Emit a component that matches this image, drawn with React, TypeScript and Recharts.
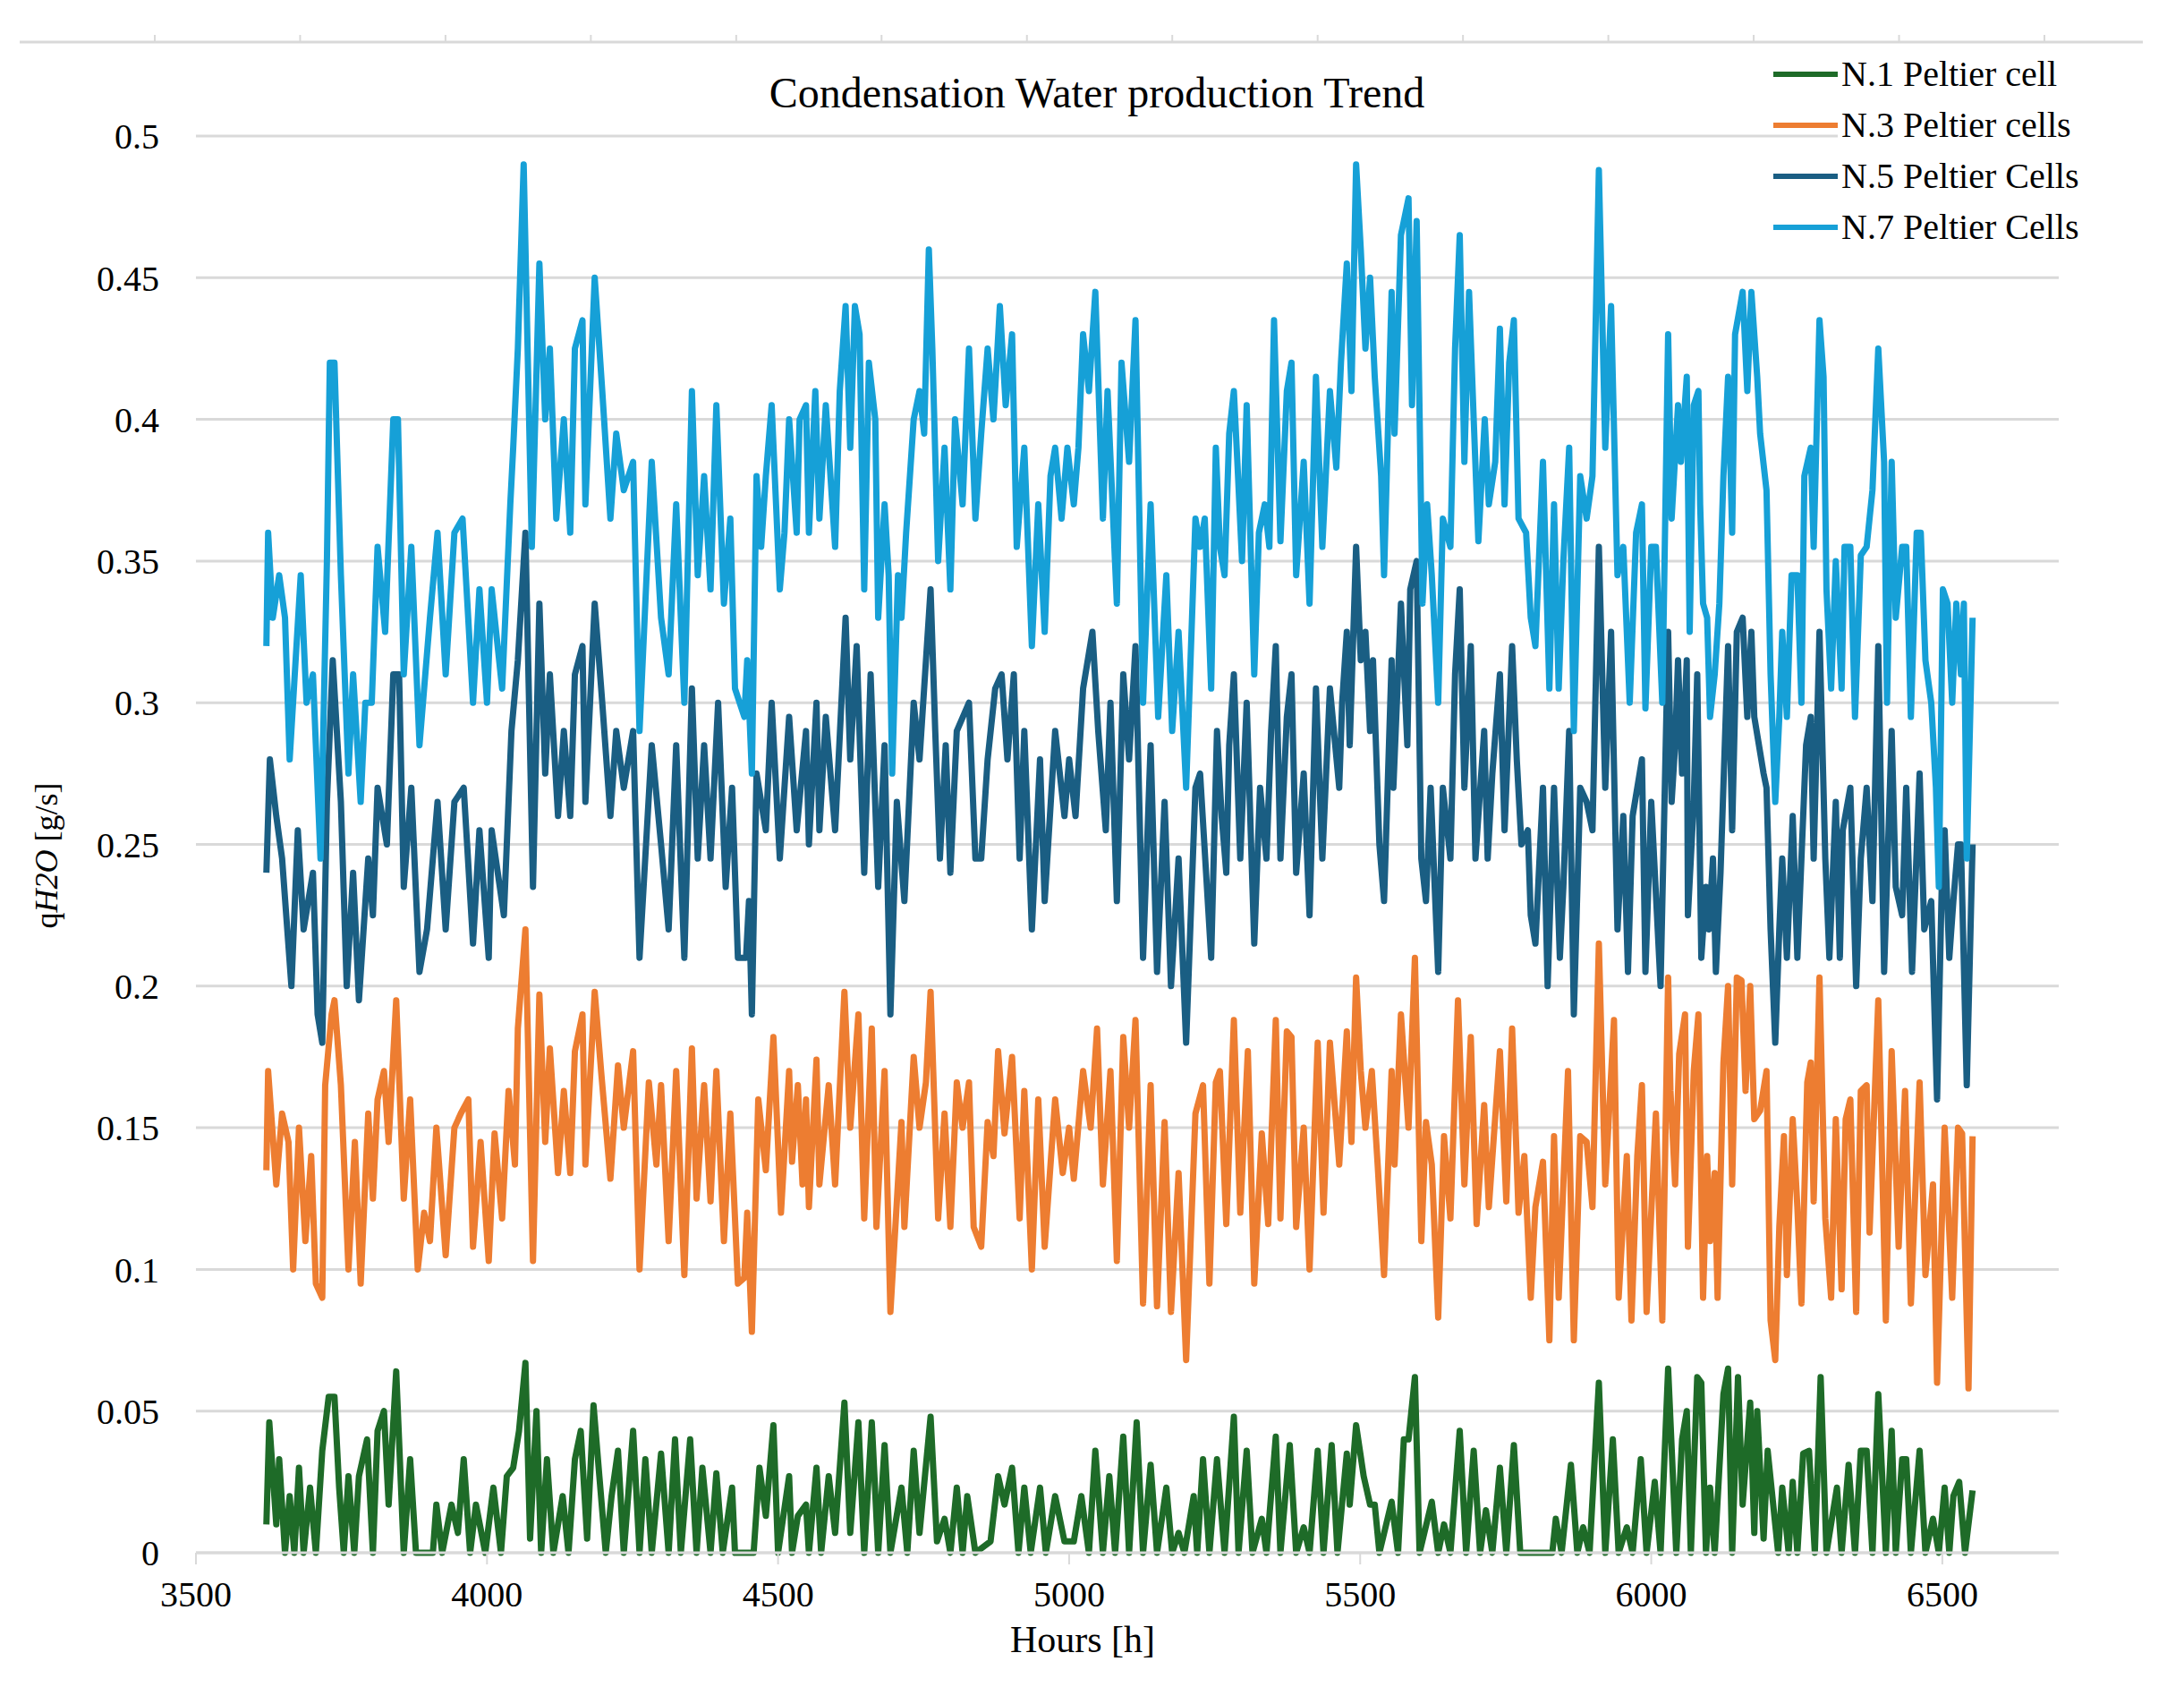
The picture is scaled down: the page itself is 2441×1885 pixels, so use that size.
import React from "react";
import { LineChart, Line, XAxis, YAxis, CartesianGrid, Legend } from "recharts";

// [hour, q H2O g/s] readings per configuration
const N1: [number, number][] = [
  [3621, 0.01], [3626, 0.046], [3638, 0.01], [3643, 0.033], [3653, 0], [3661, 0.02], [3669, 0], [3677, 0.03],
  [3685, 0], [3696, 0.023], [3706, 0], [3717, 0.036], [3728, 0.055], [3738, 0.055], [3746, 0.023], [3754, 0],
  [3762, 0.027], [3772, 0], [3780, 0.027], [3794, 0.04], [3804, 0], [3812, 0.043], [3823, 0.05], [3831, 0.017],
  [3844, 0.064], [3857, 0], [3868, 0.033], [3878, 0], [3907, 0], [3913, 0.017], [3923, 0], [3939, 0.017],
  [3950, 0.007], [3960, 0.033], [3971, 0], [3981, 0.017], [3997, 0], [4011, 0.023], [4024, 0], [4034, 0.027],
  [4045, 0.03], [4055, 0.043], [4066, 0.067], [4074, 0.005], [4085, 0.05], [4093, 0], [4103, 0.033], [4114, 0],
  [4130, 0.02], [4140, 0], [4151, 0.033], [4161, 0.043], [4172, 0.005], [4183, 0.052], [4193, 0.027], [4204, 0],
  [4214, 0.02], [4225, 0.036], [4235, 0], [4251, 0.043], [4262, 0], [4272, 0.033], [4283, 0], [4299, 0.035],
  [4312, 0], [4323, 0.04], [4333, 0], [4349, 0.04], [4360, 0], [4370, 0.03], [4384, 0], [4394, 0.028],
  [4405, 0], [4421, 0.023], [4426, 0], [4458, 0], [4468, 0.03], [4479, 0.013], [4492, 0.045], [4500, 0],
  [4519, 0.027], [4524, 0], [4534, 0.013], [4548, 0.017], [4553, 0], [4566, 0.03], [4574, 0], [4587, 0.027],
  [4598, 0.007], [4614, 0.053], [4624, 0.007], [4638, 0.046], [4648, 0], [4661, 0.046], [4672, 0], [4683, 0.038],
  [4693, 0], [4712, 0.023], [4722, 0], [4733, 0.036], [4743, 0.007], [4762, 0.048], [4773, 0.004], [4786, 0.012],
  [4796, 0], [4807, 0.023], [4817, 0], [4825, 0.02], [4839, 0], [4865, 0.004], [4878, 0.027], [4889, 0.017],
  [4902, 0.03], [4913, 0], [4923, 0.023], [4934, 0], [4950, 0.023], [4960, 0], [4976, 0.02], [4992, 0.004],
  [5008, 0.004], [5021, 0.02], [5034, 0], [5045, 0.036], [5058, 0], [5069, 0.027], [5079, 0], [5093, 0.041],
  [5103, 0], [5116, 0.046], [5127, 0], [5140, 0.031], [5151, 0], [5167, 0.023], [5177, 0], [5188, 0.007],
  [5198, 0], [5214, 0.02], [5220, 0], [5230, 0.033], [5241, 0], [5254, 0.033], [5267, 0], [5283, 0.048],
  [5291, 0], [5305, 0.036], [5315, 0], [5331, 0.012], [5339, 0], [5355, 0.041], [5363, 0], [5379, 0.038],
  [5390, 0], [5403, 0.009], [5413, 0], [5427, 0.036], [5437, 0], [5451, 0.038], [5461, 0], [5477, 0.035],
  [5482, 0.017], [5493, 0.045], [5506, 0.027], [5517, 0.017], [5525, 0.017], [5533, 0], [5554, 0.018], [5565, 0],
  [5575, 0.04], [5583, 0.04], [5594, 0.062], [5602, 0], [5623, 0.018], [5634, 0], [5644, 0.01], [5655, 0],
  [5671, 0.043], [5682, 0], [5695, 0.036], [5706, 0], [5716, 0.015], [5727, 0], [5740, 0.03], [5751, 0],
  [5764, 0.038], [5775, 0], [5830, 0], [5836, 0.012], [5846, 0], [5862, 0.031], [5873, 0], [5883, 0.009],
  [5894, 0], [5910, 0.06], [5921, 0], [5934, 0.04], [5944, 0], [5958, 0.009], [5968, 0], [5982, 0.033],
  [5992, 0], [6006, 0.025], [6016, 0], [6029, 0.065], [6043, 0], [6053, 0.04], [6061, 0.05], [6068, 0],
  [6079, 0.062], [6086, 0.06], [6094, 0], [6101, 0.023], [6109, 0], [6124, 0.056], [6132, 0.065], [6139, 0],
  [6149, 0.062], [6157, 0.017], [6170, 0.053], [6177, 0.007], [6182, 0.05], [6193, 0.005], [6200, 0.036], [6218, 0],
  [6225, 0.023], [6236, 0], [6243, 0.025], [6251, 0], [6261, 0.035], [6271, 0.036], [6281, 0], [6291, 0.062],
  [6301, 0], [6319, 0.023], [6327, 0], [6339, 0.031], [6350, 0], [6360, 0.036], [6370, 0.036], [6380, 0],
  [6390, 0.056], [6403, 0], [6413, 0.043], [6420, 0], [6431, 0.033], [6438, 0.033], [6446, 0], [6461, 0.036],
  [6471, 0], [6484, 0.012], [6494, 0], [6504, 0.023], [6512, 0], [6519, 0.02], [6529, 0.025], [6539, 0],
  [6552, 0.022],
];

const N3: [number, number][] = [
  [3621, 0.135], [3624, 0.17], [3638, 0.13], [3648, 0.155], [3659, 0.145], [3667, 0.1], [3677, 0.15], [3688, 0.11],
  [3698, 0.14], [3706, 0.095], [3717, 0.09], [3722, 0.165], [3733, 0.19], [3738, 0.195], [3749, 0.165], [3762, 0.1],
  [3773, 0.145], [3783, 0.095], [3796, 0.155], [3804, 0.125], [3812, 0.16], [3823, 0.17], [3831, 0.145], [3844, 0.195],
  [3857, 0.125], [3868, 0.16], [3881, 0.1], [3892, 0.12], [3902, 0.11], [3913, 0.15], [3929, 0.105], [3944, 0.15],
  [3955, 0.155], [3968, 0.16], [3976, 0.108], [3989, 0.145], [4003, 0.103], [4013, 0.148], [4026, 0.118], [4037, 0.163],
  [4048, 0.137], [4053, 0.185], [4066, 0.22], [4079, 0.103], [4090, 0.197], [4100, 0.145], [4108, 0.178], [4122, 0.134],
  [4132, 0.163], [4143, 0.134], [4151, 0.177], [4164, 0.19], [4169, 0.137], [4185, 0.198], [4196, 0.17], [4212, 0.132],
  [4225, 0.172], [4235, 0.15], [4251, 0.177], [4262, 0.1], [4278, 0.166], [4291, 0.137], [4299, 0.165], [4312, 0.11],
  [4325, 0.17], [4339, 0.098], [4352, 0.178], [4360, 0.125], [4373, 0.165], [4384, 0.124], [4394, 0.17],
  [4407, 0.11], [4418, 0.155], [4431, 0.095], [4442, 0.097], [4447, 0.12], [4455, 0.078], [4466, 0.16], [4479, 0.135],
  [4492, 0.182], [4505, 0.12], [4519, 0.17], [4524, 0.138], [4534, 0.165], [4542, 0.13], [4548, 0.16], [4553, 0.122],
  [4566, 0.174], [4571, 0.13], [4587, 0.165], [4598, 0.13], [4614, 0.198], [4624, 0.15], [4638, 0.19], [4648, 0.118],
  [4661, 0.185], [4669, 0.115], [4683, 0.17], [4693, 0.085], [4712, 0.152], [4717, 0.115], [4733, 0.175], [4743, 0.15],
  [4754, 0.166], [4762, 0.198], [4775, 0.118], [4786, 0.155], [4796, 0.115], [4807, 0.166], [4817, 0.15], [4828, 0.166],
  [4836, 0.115], [4849, 0.108], [4860, 0.152], [4870, 0.14], [4878, 0.177], [4889, 0.148], [4902, 0.175], [4915, 0.118],
  [4923, 0.163], [4936, 0.1], [4947, 0.16], [4958, 0.108], [4976, 0.16], [4989, 0.134], [5000, 0.15], [5008, 0.132],
  [5024, 0.17], [5037, 0.15], [5048, 0.185], [5058, 0.13], [5071, 0.17], [5082, 0.103], [5093, 0.182], [5103, 0.15],
  [5114, 0.188], [5127, 0.088], [5140, 0.165], [5151, 0.087], [5164, 0.152], [5175, 0.085], [5188, 0.134], [5201, 0.068],
  [5217, 0.155], [5230, 0.165], [5241, 0.095], [5252, 0.166], [5259, 0.17], [5270, 0.116], [5283, 0.188], [5294, 0.12],
  [5307, 0.177], [5318, 0.095], [5331, 0.148], [5342, 0.116], [5355, 0.188], [5363, 0.118], [5374, 0.184], [5382, 0.182],
  [5390, 0.115], [5403, 0.15], [5413, 0.1], [5427, 0.18], [5437, 0.12], [5448, 0.18], [5464, 0.137], [5477, 0.184],
  [5485, 0.145], [5493, 0.203], [5501, 0.17], [5509, 0.15], [5520, 0.17], [5530, 0.137], [5541, 0.098], [5554, 0.17],
  [5559, 0.137], [5570, 0.19], [5583, 0.15], [5594, 0.21], [5605, 0.11], [5613, 0.152], [5623, 0.137], [5634, 0.083],
  [5644, 0.147], [5655, 0.118], [5668, 0.195], [5679, 0.13], [5690, 0.182], [5700, 0.116], [5713, 0.158], [5721, 0.122],
  [5740, 0.177], [5751, 0.124], [5761, 0.185], [5772, 0.12], [5782, 0.14], [5793, 0.09], [5801, 0.122], [5814, 0.138],
  [5825, 0.075], [5833, 0.147], [5841, 0.09], [5857, 0.17], [5867, 0.075], [5878, 0.147], [5889, 0.145], [5899, 0.122],
  [5910, 0.215], [5921, 0.13], [5936, 0.188], [5944, 0.09], [5958, 0.14], [5966, 0.082], [5976, 0.14], [5984, 0.165],
  [5992, 0.085], [6008, 0.155], [6019, 0.082], [6029, 0.203], [6033, 0.163], [6041, 0.13], [6048, 0.176], [6058, 0.19],
  [6063, 0.108], [6073, 0.17], [6081, 0.19], [6089, 0.09], [6096, 0.14], [6101, 0.11], [6109, 0.134], [6114, 0.09],
  [6124, 0.173], [6132, 0.2], [6139, 0.13], [6147, 0.203], [6155, 0.202], [6162, 0.163], [6170, 0.2], [6177, 0.153],
  [6187, 0.156], [6198, 0.17], [6205, 0.082], [6213, 0.068], [6220, 0.115], [6228, 0.147], [6233, 0.098], [6243, 0.153],
  [6251, 0.122], [6258, 0.088], [6268, 0.166], [6274, 0.173], [6279, 0.124], [6289, 0.203], [6299, 0.118], [6309, 0.09],
  [6317, 0.153], [6327, 0.093], [6334, 0.153], [6342, 0.16], [6352, 0.085], [6360, 0.163], [6370, 0.165], [6375, 0.113],
  [6390, 0.195], [6403, 0.082], [6413, 0.177], [6425, 0.108], [6436, 0.163], [6446, 0.088], [6461, 0.166], [6471, 0.098],
  [6484, 0.13], [6491, 0.06], [6504, 0.15], [6517, 0.09], [6527, 0.15], [6534, 0.148], [6545, 0.058], [6552, 0.147],
];

const N5: [number, number][] = [
  [3621, 0.24], [3627, 0.28], [3638, 0.26], [3648, 0.245], [3664, 0.2], [3675, 0.255], [3685, 0.22], [3701, 0.24],
  [3709, 0.19], [3717, 0.18], [3725, 0.265], [3735, 0.315], [3749, 0.265], [3759, 0.2], [3770, 0.24], [3780, 0.195],
  [3796, 0.245], [3804, 0.225], [3812, 0.27], [3828, 0.25], [3839, 0.31], [3849, 0.31], [3857, 0.235], [3870, 0.27],
  [3884, 0.205], [3897, 0.22], [3915, 0.265], [3929, 0.22], [3944, 0.265], [3960, 0.27], [3976, 0.215], [3987, 0.255],
  [4003, 0.21], [4008, 0.255], [4029, 0.225], [4042, 0.29], [4053, 0.315], [4066, 0.36], [4079, 0.235], [4090, 0.335],
  [4100, 0.275], [4108, 0.31], [4122, 0.26], [4132, 0.29], [4143, 0.26], [4151, 0.31], [4164, 0.32], [4169, 0.265],
  [4185, 0.335], [4198, 0.3], [4212, 0.26], [4222, 0.29], [4235, 0.27], [4251, 0.29], [4262, 0.21], [4283, 0.285],
  [4299, 0.25], [4312, 0.22], [4325, 0.285], [4339, 0.21], [4352, 0.305], [4362, 0.245], [4373, 0.285], [4384, 0.245],
  [4397, 0.3], [4410, 0.235], [4421, 0.27], [4431, 0.21], [4445, 0.21], [4450, 0.23], [4455, 0.19], [4463, 0.275],
  [4479, 0.255], [4489, 0.3], [4503, 0.245], [4519, 0.295], [4532, 0.255], [4548, 0.29], [4553, 0.25], [4566, 0.3],
  [4571, 0.255], [4582, 0.295], [4598, 0.255], [4616, 0.33], [4624, 0.28], [4635, 0.32], [4648, 0.24], [4659, 0.31],
  [4672, 0.235], [4683, 0.285], [4693, 0.19], [4704, 0.265], [4717, 0.23], [4733, 0.3], [4743, 0.28], [4762, 0.34],
  [4770, 0.29], [4778, 0.245], [4788, 0.285], [4796, 0.24], [4807, 0.29], [4828, 0.3], [4839, 0.245], [4849, 0.245],
  [4860, 0.28], [4873, 0.305], [4884, 0.31], [4894, 0.28], [4905, 0.31], [4915, 0.245], [4923, 0.29], [4936, 0.22],
  [4950, 0.28], [4958, 0.23], [4976, 0.29], [4992, 0.26], [5000, 0.28], [5011, 0.26], [5024, 0.305], [5040, 0.325],
  [5050, 0.29], [5063, 0.255], [5071, 0.3], [5082, 0.23], [5093, 0.31], [5103, 0.28], [5114, 0.32], [5127, 0.21],
  [5140, 0.285], [5151, 0.205], [5164, 0.265], [5175, 0.2], [5188, 0.245], [5201, 0.18], [5217, 0.27], [5225, 0.275],
  [5244, 0.21], [5254, 0.29], [5262, 0.26], [5270, 0.24], [5275, 0.285], [5283, 0.31], [5294, 0.245], [5305, 0.3],
  [5318, 0.215], [5328, 0.27], [5339, 0.245], [5347, 0.29], [5355, 0.32], [5363, 0.245], [5374, 0.295], [5382, 0.31],
  [5390, 0.24], [5403, 0.275], [5413, 0.225], [5424, 0.305], [5435, 0.245], [5448, 0.305], [5464, 0.27], [5469, 0.3],
  [5477, 0.325], [5482, 0.285], [5493, 0.355], [5501, 0.315], [5509, 0.325], [5517, 0.29], [5522, 0.315], [5533, 0.25],
  [5541, 0.23], [5554, 0.315], [5557, 0.27], [5570, 0.335], [5581, 0.285], [5586, 0.34], [5597, 0.35], [5605, 0.245],
  [5613, 0.23], [5621, 0.27], [5634, 0.205], [5642, 0.27], [5655, 0.245], [5663, 0.31], [5671, 0.34], [5679, 0.27],
  [5690, 0.32], [5698, 0.245], [5713, 0.29], [5719, 0.245], [5727, 0.275], [5740, 0.31], [5748, 0.255], [5761, 0.32],
  [5769, 0.28], [5777, 0.25], [5788, 0.255], [5793, 0.225], [5801, 0.215], [5814, 0.27], [5822, 0.2], [5833, 0.27],
  [5843, 0.21], [5849, 0.235], [5859, 0.29], [5867, 0.19], [5878, 0.27], [5889, 0.265], [5899, 0.255], [5910, 0.355],
  [5921, 0.27], [5931, 0.325], [5942, 0.22], [5952, 0.26], [5960, 0.205], [5968, 0.26], [5984, 0.28], [5990, 0.205],
  [6000, 0.265], [6016, 0.2], [6029, 0.325], [6035, 0.265], [6041, 0.285], [6046, 0.315], [6053, 0.275], [6061, 0.315],
  [6063, 0.225], [6073, 0.265], [6079, 0.31], [6086, 0.21], [6094, 0.235], [6099, 0.22], [6106, 0.245], [6111, 0.205],
  [6119, 0.24], [6132, 0.32], [6139, 0.255], [6147, 0.325], [6157, 0.33], [6165, 0.295], [6172, 0.325], [6177, 0.295],
  [6185, 0.285], [6193, 0.275], [6198, 0.27], [6205, 0.22], [6213, 0.18], [6220, 0.22], [6225, 0.245], [6233, 0.21],
  [6243, 0.26], [6251, 0.21], [6258, 0.245], [6266, 0.285], [6274, 0.295], [6279, 0.245], [6289, 0.325], [6299, 0.245],
  [6306, 0.21], [6317, 0.265], [6324, 0.21], [6329, 0.255], [6342, 0.27], [6352, 0.2], [6360, 0.245], [6370, 0.27],
  [6380, 0.23], [6390, 0.32], [6400, 0.205], [6413, 0.29], [6420, 0.235], [6431, 0.225], [6438, 0.27], [6448, 0.205],
  [6461, 0.275], [6469, 0.22], [6481, 0.23], [6491, 0.16], [6499, 0.235], [6504, 0.255], [6512, 0.21], [6519, 0.23],
  [6527, 0.25], [6532, 0.25], [6542, 0.165], [6552, 0.25],
];

const N7: [number, number][] = [
  [3621, 0.32], [3624, 0.36], [3632, 0.33], [3643, 0.345], [3653, 0.33], [3661, 0.28], [3680, 0.345], [3690, 0.3],
  [3701, 0.31], [3714, 0.245], [3725, 0.35], [3730, 0.42], [3738, 0.42], [3749, 0.345], [3762, 0.275], [3770, 0.31],
  [3783, 0.265], [3791, 0.3], [3802, 0.3], [3812, 0.355], [3825, 0.325], [3839, 0.4], [3847, 0.4], [3857, 0.31],
  [3870, 0.355], [3884, 0.285], [3902, 0.33], [3915, 0.36], [3929, 0.31], [3944, 0.36], [3958, 0.365], [3976, 0.3],
  [3987, 0.34], [4000, 0.3], [4008, 0.34], [4026, 0.305], [4040, 0.37], [4045, 0.39], [4053, 0.425], [4063, 0.49],
  [4077, 0.355], [4090, 0.455], [4100, 0.4], [4108, 0.425], [4119, 0.365], [4132, 0.4], [4143, 0.36], [4151, 0.425],
  [4164, 0.435], [4169, 0.37], [4185, 0.45], [4198, 0.41], [4212, 0.365], [4222, 0.395], [4235, 0.375], [4251, 0.385],
  [4262, 0.29], [4283, 0.385], [4299, 0.33], [4312, 0.31], [4325, 0.37], [4339, 0.3], [4352, 0.41], [4362, 0.345],
  [4373, 0.38], [4384, 0.34], [4394, 0.405], [4407, 0.335], [4418, 0.365], [4426, 0.305], [4442, 0.295], [4447, 0.315],
  [4455, 0.275], [4463, 0.38], [4471, 0.355], [4479, 0.38], [4489, 0.405], [4503, 0.34], [4511, 0.36], [4519, 0.4],
  [4532, 0.36], [4537, 0.4], [4548, 0.405], [4553, 0.36], [4564, 0.41], [4571, 0.365], [4582, 0.405], [4598, 0.355],
  [4606, 0.41], [4616, 0.44], [4624, 0.39], [4632, 0.44], [4640, 0.43], [4648, 0.34], [4656, 0.42], [4667, 0.4],
  [4672, 0.33], [4683, 0.37], [4690, 0.345], [4696, 0.275], [4706, 0.345], [4712, 0.33], [4720, 0.36], [4733, 0.4],
  [4743, 0.41], [4751, 0.395], [4759, 0.46], [4765, 0.425], [4775, 0.35], [4786, 0.39], [4796, 0.34], [4804, 0.4],
  [4817, 0.37], [4828, 0.425], [4839, 0.365], [4849, 0.395], [4860, 0.425], [4870, 0.4], [4881, 0.44], [4891, 0.405],
  [4902, 0.43], [4910, 0.355], [4923, 0.39], [4936, 0.32], [4947, 0.37], [4958, 0.325], [4968, 0.38], [4976, 0.39],
  [4987, 0.365], [4997, 0.39], [5008, 0.37], [5016, 0.39], [5024, 0.43], [5034, 0.41], [5045, 0.445], [5058, 0.365],
  [5066, 0.41], [5082, 0.335], [5090, 0.42], [5103, 0.385], [5114, 0.435], [5127, 0.3], [5140, 0.37], [5153, 0.295],
  [5167, 0.345], [5177, 0.29], [5188, 0.325], [5201, 0.27], [5217, 0.365], [5225, 0.355], [5233, 0.365], [5244, 0.305],
  [5252, 0.39], [5259, 0.355], [5267, 0.345], [5275, 0.395], [5283, 0.41], [5289, 0.385], [5297, 0.35], [5305, 0.405],
  [5318, 0.31], [5326, 0.36], [5336, 0.37], [5344, 0.355], [5352, 0.435], [5363, 0.357], [5374, 0.41], [5382, 0.42],
  [5390, 0.345], [5403, 0.385], [5413, 0.335], [5424, 0.415], [5435, 0.355], [5448, 0.41], [5459, 0.383], [5467, 0.42],
  [5477, 0.455], [5485, 0.41], [5493, 0.49], [5501, 0.46], [5509, 0.425], [5517, 0.45], [5525, 0.415], [5536, 0.38],
  [5541, 0.345], [5554, 0.445], [5559, 0.395], [5570, 0.465], [5583, 0.478], [5589, 0.405], [5597, 0.47], [5607, 0.335],
  [5615, 0.37], [5623, 0.345], [5634, 0.3], [5642, 0.365], [5655, 0.355], [5663, 0.425], [5671, 0.465], [5679, 0.385],
  [5687, 0.445], [5695, 0.4], [5703, 0.357], [5714, 0.4], [5721, 0.37], [5732, 0.385], [5740, 0.432], [5748, 0.37],
  [5756, 0.42], [5764, 0.435], [5772, 0.365], [5785, 0.36], [5793, 0.33], [5801, 0.32], [5814, 0.385], [5825, 0.305],
  [5833, 0.37], [5841, 0.305], [5849, 0.35], [5859, 0.39], [5867, 0.29], [5878, 0.38], [5889, 0.365], [5899, 0.38],
  [5910, 0.488], [5921, 0.39], [5931, 0.44], [5942, 0.345], [5952, 0.355], [5963, 0.3], [5974, 0.36], [5984, 0.37],
  [5990, 0.298], [6000, 0.355], [6008, 0.355], [6019, 0.3], [6029, 0.43], [6035, 0.365], [6046, 0.405], [6051, 0.385],
  [6061, 0.415], [6066, 0.325], [6073, 0.405], [6081, 0.41], [6084, 0.37], [6089, 0.335], [6096, 0.33], [6101, 0.295],
  [6109, 0.31], [6117, 0.335], [6124, 0.38], [6132, 0.415], [6139, 0.36], [6144, 0.43], [6157, 0.445], [6165, 0.41],
  [6172, 0.445], [6182, 0.415], [6187, 0.395], [6198, 0.375], [6205, 0.31], [6213, 0.265], [6220, 0.295], [6225, 0.325],
  [6233, 0.295], [6241, 0.345], [6251, 0.345], [6258, 0.3], [6263, 0.38], [6274, 0.39], [6279, 0.355], [6289, 0.435],
  [6296, 0.415], [6301, 0.34], [6309, 0.305], [6317, 0.35], [6327, 0.305], [6332, 0.355], [6342, 0.355], [6350, 0.295],
  [6360, 0.352], [6370, 0.355], [6380, 0.375], [6390, 0.425], [6400, 0.385], [6405, 0.3], [6413, 0.385], [6420, 0.33],
  [6431, 0.355], [6438, 0.355], [6446, 0.295], [6456, 0.36], [6463, 0.36], [6471, 0.315], [6481, 0.3], [6489, 0.27],
  [6494, 0.235], [6501, 0.34], [6509, 0.335], [6517, 0.3], [6524, 0.335], [6532, 0.31], [6537, 0.335], [6542, 0.245],
  [6552, 0.33],
];

const X_TICKS = [3500, 4000, 4500, 5000, 5500, 6000, 6500];
const Y_TICKS = [0, 0.05, 0.1, 0.15, 0.2, 0.25, 0.3, 0.35, 0.4, 0.45, 0.5];

const SERIES = [
  { key: "n1", name: "N.1 Peltier cell", color: "#1E6B28", points: N1 },
  { key: "n3", name: "N.3 Peltier cells", color: "#ED7D31", points: N3 },
  { key: "n5", name: "N.5 Peltier Cells", color: "#1A5E83", points: N5 },
  { key: "n7", name: "N.7 Peltier Cells", color: "#16A0D7", points: N7 },
];

const W = 2441;
const H = 1885;
const FONT = "'Liberation Serif', 'Times New Roman', serif";
const GRID = "#D9D9D9";

function LegendBox() {
  return (
    <div style={{ fontFamily: FONT }}>
      {SERIES.map((s) => (
        <div key={s.key} style={{ display: "flex", alignItems: "center", height: 57 }}>
          <div style={{ width: 72, height: 6, background: s.color }} />
          <div
            style={{
              background: "#fff",
              fontSize: 40,
              color: "#000",
              paddingLeft: 4,
              width: 360,
              lineHeight: "57px",
              whiteSpace: "nowrap",
            }}
          >
            {s.name}
          </div>
        </div>
      ))}
    </div>
  );
}

export default function App() {
  // little tick marks on the grey rule above the chart
  const topTicks = Array.from({ length: 14 }, (_, i) => 173 + i * 162.46);
  return (
    <div style={{ position: "absolute", left: 0, top: 0, width: W, height: H, background: "#fff" }}>
      <LineChart
        width={W}
        height={H}
        margin={{ top: 152, right: 140, bottom: 90, left: 119 }}
        style={{ fontFamily: FONT }}
      >
        <CartesianGrid horizontal vertical={false} stroke={GRID} strokeWidth={3} />
        <XAxis
          dataKey="hour"
          type="number"
          domain={[3500, 6700]}
          ticks={X_TICKS}
          allowDataOverflow
          height={60}
          axisLine={{ stroke: GRID, strokeWidth: 3 }}
          tickLine={{ stroke: GRID, strokeWidth: 2 }}
          tickSize={13}
          tickMargin={19}
          tick={{ fontSize: 40, fill: "#000", fontFamily: FONT }}
        />
        <YAxis
          type="number"
          domain={[0, 0.5]}
          ticks={Y_TICKS}
          width={100}
          axisLine={false}
          tickLine={false}
          tickSize={0}
          tickMargin={41}
          tick={{ fontSize: 40, fill: "#000", fontFamily: FONT }}
          tickFormatter={(v: number) => String(Number(v.toFixed(2)))}
        />
        <Legend
          layout="vertical"
          align="center"
          verticalAlign="middle"
          wrapperStyle={{ left: 1982, top: 54, width: 440 }}
          content={() => <LegendBox />}
        />
        {SERIES.map((s) => (
          <Line
            key={s.key}
            data={s.points.map(([hour, q]) => ({ hour, q }))}
            type="linear"
            dataKey="q"
            name={s.name}
            stroke={s.color}
            strokeWidth={7}
            strokeLinejoin="round"
            dot={false}
            activeDot={false}
            isAnimationActive={false}
          />
        ))}
      </LineChart>
      <svg
        width={W}
        height={H}
        style={{ position: "absolute", left: 0, top: 0, pointerEvents: "none", fontFamily: FONT }}
      >
        <line x1={22} x2={2395} y1={47} y2={47} stroke={GRID} strokeWidth={3} />
        {topTicks.map((x) => (
          <line key={x} x1={x} x2={x} y1={39} y2={47} stroke={GRID} strokeWidth={2} />
        ))}
        <text x={1226} y={120} textAnchor="middle" fontSize={48} fill="#000">
          Condensation Water production Trend
        </text>
        <text x={1210} y={1846} textAnchor="middle" fontSize={42} fill="#000">
          Hours [h]
        </text>
        <text
          x={64}
          y={956}
          textAnchor="middle"
          fontSize={36}
          fill="#000"
          transform="rotate(-90, 64, 956)"
        >
          q<tspan fontStyle="italic">H2O</tspan> [g/s]
        </text>
      </svg>
    </div>
  );
}
